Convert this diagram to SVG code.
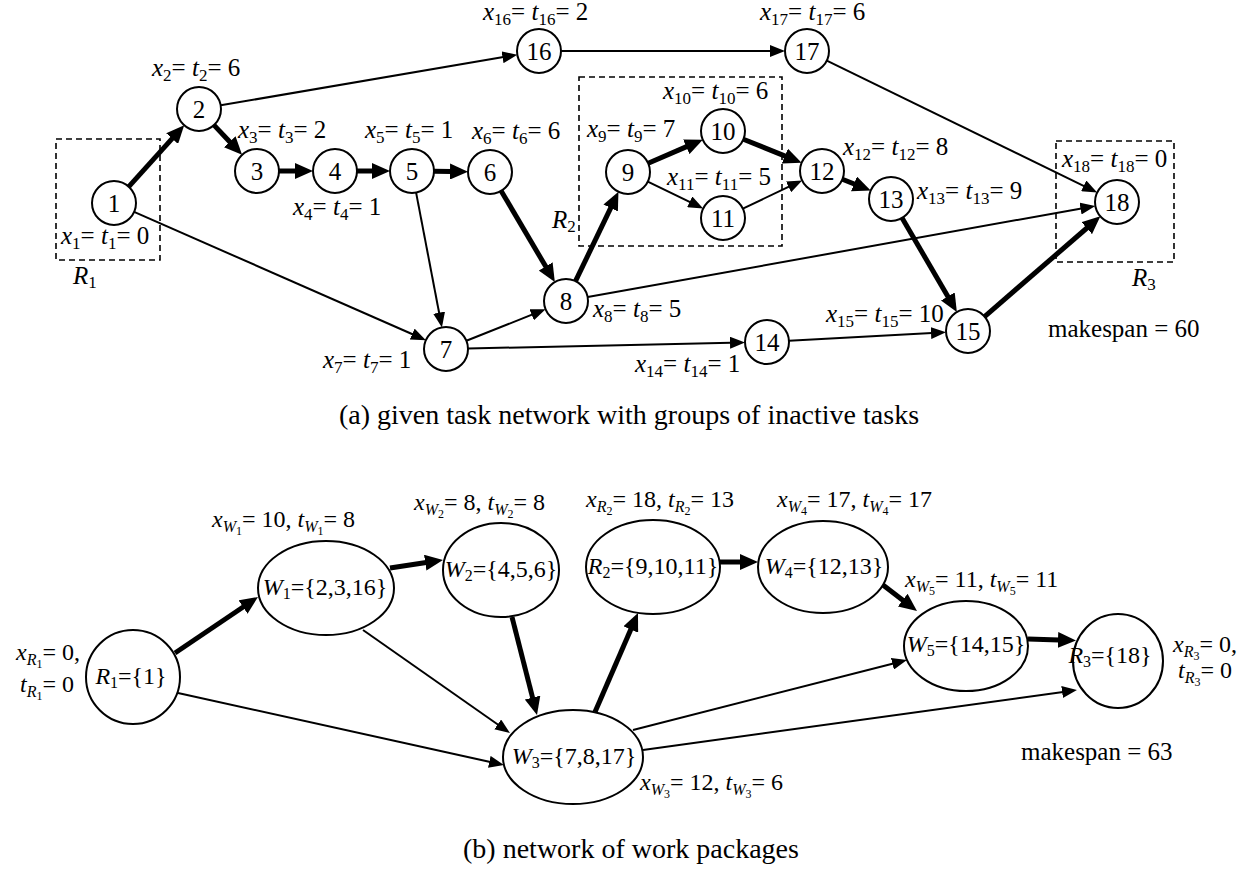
<svg xmlns="http://www.w3.org/2000/svg" width="1260" height="869" viewBox="0 0 1260 869">
<defs>
<marker id="ah" markerUnits="userSpaceOnUse" markerWidth="15" markerHeight="12" viewBox="0 0 15 12" refX="1" refY="6" orient="auto"><path d="M0,0 L15,6 L0,12 z" fill="#000"/></marker>
<marker id="ahb" markerUnits="userSpaceOnUse" markerWidth="18" markerHeight="16" viewBox="0 0 18 16" refX="1" refY="8" orient="auto"><path d="M0,0 L18,8 L0,16 z" fill="#000"/></marker>
</defs>
<rect width="1260" height="869" fill="#fff"/>

<g id="regions">
<g fill="none" stroke="#000" stroke-width="1.6" stroke-dasharray="6 4">
<rect x="56" y="139" width="104" height="121"/>
<rect x="579" y="77" width="203" height="169"/>
<rect x="1056" y="141" width="118" height="121"/>
</g>
<text font-family="Liberation Serif" font-size="25" x="73" y="284"><tspan font-style="italic">R</tspan><tspan font-size="17" dy="4">1</tspan></text>
<text font-family="Liberation Serif" font-size="25" x="552" y="228"><tspan font-style="italic">R</tspan><tspan font-size="17" dy="4">2</tspan></text>
<text font-family="Liberation Serif" font-size="25" x="1132" y="286"><tspan font-style="italic">R</tspan><tspan font-size="17" dy="4">3</tspan></text>
</g>

<g id="connectors-a" stroke="#000" fill="none">
<g stroke-width="5" marker-end="url(#ahb)">
<line x1="128.8" y1="186.7" x2="172.8" y2="137.9"/>
<line x1="214" y1="125.1" x2="230.4" y2="142.5"/>
<line x1="279" y1="171" x2="296" y2="171"/>
<line x1="357" y1="171" x2="373" y2="171"/>
<line x1="434" y1="171.3" x2="451" y2="171.5"/>
<line x1="501.2" y1="191" x2="546.2" y2="267.3"/>
<line x1="575.5" y1="281.2" x2="611.1" y2="207.1"/>
<line x1="648.2" y1="163.3" x2="687.2" y2="146.4"/>
<line x1="743.4" y1="139.2" x2="785.8" y2="156.4"/>
<line x1="842.4" y1="179.3" x2="854.9" y2="184.3"/>
<line x1="902.1" y1="218" x2="948.3" y2="297.3"/>
<line x1="984.6" y1="316.6" x2="1087.5" y2="227.5"/>
</g>
<g stroke-width="2" marker-end="url(#ah)">
<line x1="220.7" y1="105.3" x2="503.5" y2="57.1"/>
<line x1="561" y1="51" x2="771" y2="51"/>
<line x1="826.8" y1="60.6" x2="1084.6" y2="186.3"/>
<line x1="134.1" y1="211.9" x2="413.1" y2="334.5"/>
<line x1="416.1" y1="192.6" x2="439.3" y2="313.7"/>
<line x1="466.4" y1="340.8" x2="532.6" y2="314.4"/>
<line x1="468" y1="348.5" x2="731" y2="342.8"/>
<line x1="587.7" y1="297.1" x2="1081.5" y2="208.4"/>
<line x1="647.8" y1="181.6" x2="690.6" y2="202.3"/>
<line x1="742.9" y1="208.6" x2="789.5" y2="186.4"/>
<line x1="789" y1="340.8" x2="932" y2="333"/>
</g>
</g>

<g id="nodes-a" fill="#fff" stroke="#000" stroke-width="2">
<g id="n1"><circle cx="114" cy="203" r="22"/><text font-family="Liberation Serif" font-size="25" text-anchor="middle" fill="#000" stroke="none" x="114" y="212">1</text></g>
<g id="n2"><circle cx="199" cy="109" r="22"/><text font-family="Liberation Serif" font-size="25" text-anchor="middle" fill="#000" stroke="none" x="199" y="118">2</text></g>
<g id="n3"><circle cx="257" cy="171" r="22"/><text font-family="Liberation Serif" font-size="25" text-anchor="middle" fill="#000" stroke="none" x="257" y="180">3</text></g>
<g id="n4"><circle cx="335" cy="171" r="22"/><text font-family="Liberation Serif" font-size="25" text-anchor="middle" fill="#000" stroke="none" x="335" y="180">4</text></g>
<g id="n5"><circle cx="412" cy="171" r="22"/><text font-family="Liberation Serif" font-size="25" text-anchor="middle" fill="#000" stroke="none" x="412" y="180">5</text></g>
<g id="n6"><circle cx="490" cy="172" r="22"/><text font-family="Liberation Serif" font-size="25" text-anchor="middle" fill="#000" stroke="none" x="490" y="181">6</text></g>
<g id="n7"><circle cx="446" cy="349" r="22"/><text font-family="Liberation Serif" font-size="25" text-anchor="middle" fill="#000" stroke="none" x="446" y="358">7</text></g>
<g id="n8"><circle cx="566" cy="301" r="22"/><text font-family="Liberation Serif" font-size="25" text-anchor="middle" fill="#000" stroke="none" x="566" y="310">8</text></g>
<g id="n9"><circle cx="628" cy="172" r="22"/><text font-family="Liberation Serif" font-size="25" text-anchor="middle" fill="#000" stroke="none" x="628" y="181">9</text></g>
<g id="n10"><circle cx="723" cy="131" r="22"/><text font-family="Liberation Serif" font-size="25" text-anchor="middle" fill="#000" stroke="none" x="723" y="140">10</text></g>
<g id="n11"><circle cx="723" cy="218" r="22"/><text font-family="Liberation Serif" font-size="25" text-anchor="middle" fill="#000" stroke="none" x="723" y="227">11</text></g>
<g id="n12"><circle cx="822" cy="171" r="22"/><text font-family="Liberation Serif" font-size="25" text-anchor="middle" fill="#000" stroke="none" x="822" y="180">12</text></g>
<g id="n13"><circle cx="891" cy="199" r="22"/><text font-family="Liberation Serif" font-size="25" text-anchor="middle" fill="#000" stroke="none" x="891" y="208">13</text></g>
<g id="n14"><circle cx="767" cy="342" r="22"/><text font-family="Liberation Serif" font-size="25" text-anchor="middle" fill="#000" stroke="none" x="767" y="351">14</text></g>
<g id="n15"><circle cx="968" cy="331" r="22"/><text font-family="Liberation Serif" font-size="25" text-anchor="middle" fill="#000" stroke="none" x="968" y="340">15</text></g>
<g id="n16"><circle cx="539" cy="51" r="22"/><text font-family="Liberation Serif" font-size="25" text-anchor="middle" fill="#000" stroke="none" x="539" y="60">16</text></g>
<g id="n17"><circle cx="807" cy="51" r="22"/><text font-family="Liberation Serif" font-size="25" text-anchor="middle" fill="#000" stroke="none" x="807" y="60">17</text></g>
<g id="n18"><circle cx="1117" cy="202" r="22"/><text font-family="Liberation Serif" font-size="25" text-anchor="middle" fill="#000" stroke="none" x="1117" y="211">18</text></g>
</g>

<g id="labels-a">
<text font-family="Liberation Serif" font-size="25" x="61" y="244"><tspan font-style="italic">x</tspan><tspan font-size="17" dy="5">1</tspan><tspan dy="-5">= </tspan><tspan font-style="italic">t</tspan><tspan font-size="17" dy="5">1</tspan><tspan dy="-5">= 0</tspan></text>
<text font-family="Liberation Serif" font-size="25" x="152" y="76"><tspan font-style="italic">x</tspan><tspan font-size="17" dy="5">2</tspan><tspan dy="-5">= </tspan><tspan font-style="italic">t</tspan><tspan font-size="17" dy="5">2</tspan><tspan dy="-5">= 6</tspan></text>
<text font-family="Liberation Serif" font-size="25" x="238" y="138"><tspan font-style="italic">x</tspan><tspan font-size="17" dy="5">3</tspan><tspan dy="-5">= </tspan><tspan font-style="italic">t</tspan><tspan font-size="17" dy="5">3</tspan><tspan dy="-5">= 2</tspan></text>
<text font-family="Liberation Serif" font-size="25" x="293" y="215"><tspan font-style="italic">x</tspan><tspan font-size="17" dy="5">4</tspan><tspan dy="-5">= </tspan><tspan font-style="italic">t</tspan><tspan font-size="17" dy="5">4</tspan><tspan dy="-5">= 1</tspan></text>
<text font-family="Liberation Serif" font-size="25" x="365" y="138"><tspan font-style="italic">x</tspan><tspan font-size="17" dy="5">5</tspan><tspan dy="-5">= </tspan><tspan font-style="italic">t</tspan><tspan font-size="17" dy="5">5</tspan><tspan dy="-5">= 1</tspan></text>
<text font-family="Liberation Serif" font-size="25" x="472" y="139"><tspan font-style="italic">x</tspan><tspan font-size="17" dy="5">6</tspan><tspan dy="-5">= </tspan><tspan font-style="italic">t</tspan><tspan font-size="17" dy="5">6</tspan><tspan dy="-5">= 6</tspan></text>
<text font-family="Liberation Serif" font-size="25" x="323" y="368"><tspan font-style="italic">x</tspan><tspan font-size="17" dy="5">7</tspan><tspan dy="-5">= </tspan><tspan font-style="italic">t</tspan><tspan font-size="17" dy="5">7</tspan><tspan dy="-5">= 1</tspan></text>
<text font-family="Liberation Serif" font-size="25" x="593" y="317"><tspan font-style="italic">x</tspan><tspan font-size="17" dy="5">8</tspan><tspan dy="-5">= </tspan><tspan font-style="italic">t</tspan><tspan font-size="17" dy="5">8</tspan><tspan dy="-5">= 5</tspan></text>
<text font-family="Liberation Serif" font-size="25" x="587" y="137"><tspan font-style="italic">x</tspan><tspan font-size="17" dy="5">9</tspan><tspan dy="-5">= </tspan><tspan font-style="italic">t</tspan><tspan font-size="17" dy="5">9</tspan><tspan dy="-5">= 7</tspan></text>
<text font-family="Liberation Serif" font-size="25" x="663" y="99"><tspan font-style="italic">x</tspan><tspan font-size="17" dy="5">10</tspan><tspan dy="-5">= </tspan><tspan font-style="italic">t</tspan><tspan font-size="17" dy="5">10</tspan><tspan dy="-5">= 6</tspan></text>
<text font-family="Liberation Serif" font-size="25" x="667" y="185"><tspan font-style="italic">x</tspan><tspan font-size="17" dy="5">11</tspan><tspan dy="-5">= </tspan><tspan font-style="italic">t</tspan><tspan font-size="17" dy="5">11</tspan><tspan dy="-5">= 5</tspan></text>
<text font-family="Liberation Serif" font-size="25" x="843" y="155"><tspan font-style="italic">x</tspan><tspan font-size="17" dy="5">12</tspan><tspan dy="-5">= </tspan><tspan font-style="italic">t</tspan><tspan font-size="17" dy="5">12</tspan><tspan dy="-5">= 8</tspan></text>
<text font-family="Liberation Serif" font-size="25" x="917" y="199"><tspan font-style="italic">x</tspan><tspan font-size="17" dy="5">13</tspan><tspan dy="-5">= </tspan><tspan font-style="italic">t</tspan><tspan font-size="17" dy="5">13</tspan><tspan dy="-5">= 9</tspan></text>
<text font-family="Liberation Serif" font-size="25" x="635" y="372"><tspan font-style="italic">x</tspan><tspan font-size="17" dy="5">14</tspan><tspan dy="-5">= </tspan><tspan font-style="italic">t</tspan><tspan font-size="17" dy="5">14</tspan><tspan dy="-5">= 1</tspan></text>
<text font-family="Liberation Serif" font-size="25" x="826" y="322"><tspan font-style="italic">x</tspan><tspan font-size="17" dy="5">15</tspan><tspan dy="-5">= </tspan><tspan font-style="italic">t</tspan><tspan font-size="17" dy="5">15</tspan><tspan dy="-5">= 10</tspan></text>
<text font-family="Liberation Serif" font-size="25" x="483" y="20"><tspan font-style="italic">x</tspan><tspan font-size="17" dy="5">16</tspan><tspan dy="-5">= </tspan><tspan font-style="italic">t</tspan><tspan font-size="17" dy="5">16</tspan><tspan dy="-5">= 2</tspan></text>
<text font-family="Liberation Serif" font-size="25" x="760" y="20"><tspan font-style="italic">x</tspan><tspan font-size="17" dy="5">17</tspan><tspan dy="-5">= </tspan><tspan font-style="italic">t</tspan><tspan font-size="17" dy="5">17</tspan><tspan dy="-5">= 6</tspan></text>
<text font-family="Liberation Serif" font-size="25" x="1062" y="167"><tspan font-style="italic">x</tspan><tspan font-size="17" dy="5">18</tspan><tspan dy="-5">= </tspan><tspan font-style="italic">t</tspan><tspan font-size="17" dy="5">18</tspan><tspan dy="-5">= 0</tspan></text>
<text font-family="Liberation Serif" font-size="25" x="1048" y="337">makespan = 60</text>
</g>

<text font-family="Liberation Serif" font-size="28" text-anchor="middle" x="629" y="424">(a) given task network with groups of inactive tasks</text>

<g id="connectors-b" stroke="#000" fill="none">
<g stroke-width="5" marker-end="url(#ahb)">
<line x1="175" y1="653" x2="243.9" y2="606.5"/>
<line x1="390" y1="568" x2="426.2" y2="562.5"/>
<line x1="512" y1="617" x2="532.8" y2="698.5"/>
<line x1="595" y1="712" x2="631.2" y2="628.6"/>
<line x1="720" y1="562" x2="741" y2="562"/>
<line x1="883" y1="585" x2="903.5" y2="600.7"/>
<line x1="1028" y1="639" x2="1059" y2="640"/>
</g>
<g stroke-width="2" marker-end="url(#ah)">
<line x1="363" y1="630" x2="498.5" y2="725"/>
<line x1="178" y1="693" x2="490.3" y2="762"/>
<line x1="633" y1="730" x2="893.4" y2="663.5"/>
<line x1="643" y1="750" x2="1063.1" y2="691.9"/>
</g>
</g>

<g id="nodes-b" fill="#fff" stroke="#000" stroke-width="2">
<g id="R1"><ellipse cx="133" cy="677" rx="47" ry="47"/><text font-family="Liberation Serif" font-size="24" text-anchor="middle" fill="#000" stroke="none" x="131" y="684"><tspan font-style="italic">R</tspan><tspan font-size="16" dy="4">1</tspan><tspan dy="-4">={1}</tspan></text></g>
<g id="W1"><ellipse cx="326" cy="588" rx="68" ry="47"/><text font-family="Liberation Serif" font-size="24" text-anchor="middle" fill="#000" stroke="none" x="325" y="595"><tspan font-style="italic">W</tspan><tspan font-size="16" dy="4">1</tspan><tspan dy="-4">={2,3,16}</tspan></text></g>
<g id="W2"><ellipse cx="501" cy="570" rx="58" ry="47"/><text font-family="Liberation Serif" font-size="24" text-anchor="middle" fill="#000" stroke="none" x="501" y="577"><tspan font-style="italic">W</tspan><tspan font-size="16" dy="4">2</tspan><tspan dy="-4">={4,5,6}</tspan></text></g>
<g id="R2"><ellipse cx="653" cy="567" rx="67" ry="47"/><text font-family="Liberation Serif" font-size="24" text-anchor="middle" fill="#000" stroke="none" x="653" y="574"><tspan font-style="italic">R</tspan><tspan font-size="16" dy="4">2</tspan><tspan dy="-4">={9,10,11}</tspan></text></g>
<g id="W4"><ellipse cx="823" cy="567" rx="65" ry="46"/><text font-family="Liberation Serif" font-size="24" text-anchor="middle" fill="#000" stroke="none" x="824" y="574"><tspan font-style="italic">W</tspan><tspan font-size="16" dy="4">4</tspan><tspan dy="-4">={12,13}</tspan></text></g>
<g id="W5"><ellipse cx="966" cy="646" rx="62" ry="45"/><text font-family="Liberation Serif" font-size="24" text-anchor="middle" fill="#000" stroke="none" x="966" y="652"><tspan font-style="italic">W</tspan><tspan font-size="16" dy="4">5</tspan><tspan dy="-4">={14,15}</tspan></text></g>
<g id="R3"><ellipse cx="1118" cy="661" rx="45" ry="47"/><text font-family="Liberation Serif" font-size="24" text-anchor="middle" fill="#000" stroke="none" x="1110" y="663"><tspan font-style="italic">R</tspan><tspan font-size="16" dy="4">3</tspan><tspan dy="-4">={18}</tspan></text></g>
<g id="W3"><ellipse cx="573" cy="757" rx="70" ry="47"/><text font-family="Liberation Serif" font-size="24" text-anchor="middle" fill="#000" stroke="none" x="574" y="764"><tspan font-style="italic">W</tspan><tspan font-size="16" dy="4">3</tspan><tspan dy="-4">={7,8,17}</tspan></text></g>
</g>

<g id="labels-b">
<text font-family="Liberation Serif" font-size="24" x="80" y="660" text-anchor="end"><tspan font-style="italic">x</tspan><tspan font-size="16" font-style="italic" dy="5">R</tspan><tspan font-size="12" dy="3">1</tspan><tspan dy="-8">= 0,</tspan></text>
<text font-family="Liberation Serif" font-size="24" x="74" y="692" text-anchor="end"><tspan font-style="italic">t</tspan><tspan font-size="16" font-style="italic" dy="5">R</tspan><tspan font-size="12" dy="3">1</tspan><tspan dy="-8">= 0</tspan></text>
<text font-family="Liberation Serif" font-size="24" x="212" y="527"><tspan font-style="italic">x</tspan><tspan font-size="16" font-style="italic" dy="5">W</tspan><tspan font-size="12" dy="3">1</tspan><tspan dy="-8">= 10, </tspan><tspan font-style="italic">t</tspan><tspan font-size="16" font-style="italic" dy="5">W</tspan><tspan font-size="12" dy="3">1</tspan><tspan dy="-8">= 8</tspan></text>
<text font-family="Liberation Serif" font-size="24" x="414" y="510"><tspan font-style="italic">x</tspan><tspan font-size="16" font-style="italic" dy="5">W</tspan><tspan font-size="12" dy="3">2</tspan><tspan dy="-8">= 8, </tspan><tspan font-style="italic">t</tspan><tspan font-size="16" font-style="italic" dy="5">W</tspan><tspan font-size="12" dy="3">2</tspan><tspan dy="-8">= 8</tspan></text>
<text font-family="Liberation Serif" font-size="24" x="586" y="507"><tspan font-style="italic">x</tspan><tspan font-size="16" font-style="italic" dy="5">R</tspan><tspan font-size="12" dy="3">2</tspan><tspan dy="-8">= 18, </tspan><tspan font-style="italic">t</tspan><tspan font-size="16" font-style="italic" dy="5">R</tspan><tspan font-size="12" dy="3">2</tspan><tspan dy="-8">= 13</tspan></text>
<text font-family="Liberation Serif" font-size="24" x="777" y="507"><tspan font-style="italic">x</tspan><tspan font-size="16" font-style="italic" dy="5">W</tspan><tspan font-size="12" dy="3">4</tspan><tspan dy="-8">= 17, </tspan><tspan font-style="italic">t</tspan><tspan font-size="16" font-style="italic" dy="5">W</tspan><tspan font-size="12" dy="3">4</tspan><tspan dy="-8">= 17</tspan></text>
<text font-family="Liberation Serif" font-size="24" x="905" y="587"><tspan font-style="italic">x</tspan><tspan font-size="16" font-style="italic" dy="5">W</tspan><tspan font-size="12" dy="3">5</tspan><tspan dy="-8">= 11, </tspan><tspan font-style="italic">t</tspan><tspan font-size="16" font-style="italic" dy="5">W</tspan><tspan font-size="12" dy="3">5</tspan><tspan dy="-8">= 11</tspan></text>
<text font-family="Liberation Serif" font-size="24" x="1173" y="652"><tspan font-style="italic">x</tspan><tspan font-size="16" font-style="italic" dy="5">R</tspan><tspan font-size="12" dy="3">3</tspan><tspan dy="-8">= 0,</tspan></text>
<text font-family="Liberation Serif" font-size="24" x="1178" y="678"><tspan font-style="italic">t</tspan><tspan font-size="16" font-style="italic" dy="5">R</tspan><tspan font-size="12" dy="3">3</tspan><tspan dy="-8">= 0</tspan></text>
<text font-family="Liberation Serif" font-size="24" x="640" y="790"><tspan font-style="italic">x</tspan><tspan font-size="16" font-style="italic" dy="5">W</tspan><tspan font-size="12" dy="3">3</tspan><tspan dy="-8">= 12, </tspan><tspan font-style="italic">t</tspan><tspan font-size="16" font-style="italic" dy="5">W</tspan><tspan font-size="12" dy="3">3</tspan><tspan dy="-8">= 6</tspan></text>
<text font-family="Liberation Serif" font-size="25" x="1021" y="760">makespan = 63</text>
</g>

<text font-family="Liberation Serif" font-size="28" text-anchor="middle" x="631" y="858">(b) network of work packages</text>
</svg>
